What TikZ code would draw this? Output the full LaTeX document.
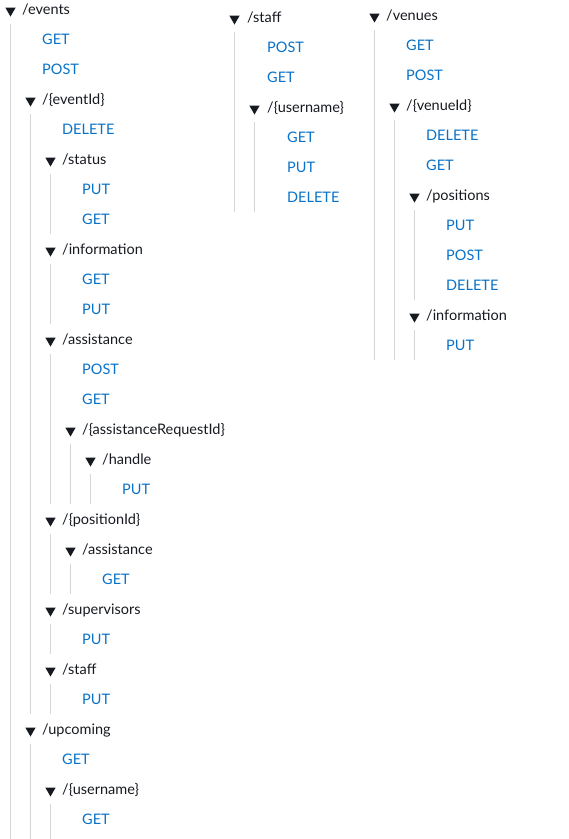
\documentclass[tikz,border=0pt]{standalone}
\usepackage{fontspec}
\setmainfont{Lato}
\usetikzlibrary{shapes.geometric}
\definecolor{ResText}{RGB}{22,25,31}
\definecolor{MethBlue}{RGB}{9,114,200}
\definecolor{GuideGray}{RGB}{212,214,216}
\tikzset{
  res/.style={anchor=west,text=ResText,font=\fontsize{14.5}{16}\selectfont,inner xsep=0pt,
    minimum height=30pt,text height=10pt,text depth=0pt},
  meth/.style={res,text=MethBlue},
  tri/.style={regular polygon,regular polygon sides=3,shape border rotate=180,fill=ResText,
    inner sep=0pt,minimum size=12pt},
  guide/.style={draw=GuideGray,line width=1pt},
}

\begin{document}
\begin{tikzpicture}[x=1pt,y=-1pt]
\useasboundingbox (0,0) rectangle (569,839);
\coordinate (bottom) at (0,839);
% /events
\node[tri] (ev-t) at (10.5,10.5) {};
\node[res] (ev) at (22,9) {/events};
\node[meth] (evget) at (42,39) {GET};
\node[meth] (evpost) at (42,69) {POST};
\node[tri] (evid-t) at (30.5,100.5) {};
\node[res] (evid) at (42,99) {/\{eventId\}};
\node[meth] (evdel) at (62,129) {DELETE};
\node[tri] (st-t) at (50.5,160.5) {};
\node[res] (st) at (62,159) {/status};
\node[meth] (stput) at (82,189) {PUT};
\node[meth] (stget) at (82,219) {GET};
\node[tri] (inf-t) at (50.5,250.5) {};
\node[res] (inf) at (62,249) {/information};
\node[meth] (infget) at (82,279) {GET};
\node[meth] (infput) at (82,309) {PUT};
\node[tri] (as-t) at (50.5,340.5) {};
\node[res] (as) at (62,339) {/assistance};
\node[meth] (aspost) at (82,369) {POST};
\node[meth] (asget) at (82,399) {GET};
\node[tri] (arid-t) at (70.5,430.5) {};
\node[res] (arid) at (82,429) {/\{assistanceRequestId\}};
\node[tri] (hd-t) at (90.5,460.5) {};
\node[res] (hd) at (102,459) {/handle};
\node[meth] (hdput) at (122,489) {PUT};
\node[tri] (pid-t) at (50.5,520.5) {};
\node[res] (pid) at (62,519) {/\{positionId\}};
\node[tri] (pas-t) at (70.5,550.5) {};
\node[res] (pas) at (82,549) {/assistance};
\node[meth] (pasget) at (102,579) {GET};
\node[tri] (sup-t) at (50.5,610.5) {};
\node[res] (sup) at (62,609) {/supervisors};
\node[meth] (supput) at (82,639) {PUT};
\node[tri] (stf-t) at (50.5,670.5) {};
\node[res] (stf) at (62,669) {/staff};
\node[meth] (stfput) at (82,699) {PUT};
\node[tri] (up-t) at (30.5,730.5) {};
\node[res] (up) at (42,729) {/upcoming};
\node[meth] (upget) at (62,759) {GET};
\node[tri] (un-t) at (50.5,790.5) {};
\node[res] (un) at (62,789) {/\{username\}};
\node[meth] (unget) at (82,819) {GET};
\draw[guide] (ev-t |- ev.south) -- (ev-t |- bottom);
\draw[guide] (evid-t |- evid.south) -- (evid-t |- stfput.south);
\draw[guide] (st-t |- st.south) -- (st-t |- stget.south);
\draw[guide] (inf-t |- inf.south) -- (inf-t |- infput.south);
\draw[guide] (as-t |- as.south) -- (as-t |- hdput.south);
\draw[guide] (arid-t |- arid.south) -- (arid-t |- hdput.south);
\draw[guide] (hd-t |- hd.south) -- (hd-t |- hdput.south);
\draw[guide] (pid-t |- pid.south) -- (pid-t |- pasget.south);
\draw[guide] (pas-t |- pas.south) -- (pas-t |- pasget.south);
\draw[guide] (sup-t |- sup.south) -- (sup-t |- supput.south);
\draw[guide] (stf-t |- stf.south) -- (stf-t |- stfput.south);
\draw[guide] (up-t |- up.south) -- (up-t |- bottom);
\draw[guide] (un-t |- un.south) -- (un-t |- bottom);
% /staff
\node[tri] (staff-t) at (234.5,18.5) {};
\node[res] (staff) at (247,17) {/staff};
\node[meth] (staffpost) at (267,47) {POST};
\node[meth] (staffget) at (267,77) {GET};
\node[tri] (sun-t) at (254.5,108.5) {};
\node[res] (sun) at (267,107) {/\{username\}};
\node[meth] (sunget) at (287,137) {GET};
\node[meth] (sunput) at (287,167) {PUT};
\node[meth] (sundel) at (287,197) {DELETE};
\draw[guide] (staff-t |- staff.south) -- (staff-t |- sundel.south);
\draw[guide] (sun-t |- sun.south) -- (sun-t |- sundel.south);
% /venues
\node[tri] (ven-t) at (374.5,16.5) {};
\node[res] (ven) at (386,15) {/venues};
\node[meth] (venget) at (406,45) {GET};
\node[meth] (venpost) at (406,75) {POST};
\node[tri] (vid-t) at (394.5,106.5) {};
\node[res] (vid) at (406,105) {/\{venueId\}};
\node[meth] (viddel) at (426,135) {DELETE};
\node[meth] (vidget) at (426,165) {GET};
\node[tri] (pos-t) at (414.5,196.5) {};
\node[res] (pos) at (426,195) {/positions};
\node[meth] (posput) at (446,225) {PUT};
\node[meth] (pospost) at (446,255) {POST};
\node[meth] (posdel) at (446,285) {DELETE};
\node[tri] (vinf-t) at (414.5,316.5) {};
\node[res] (vinf) at (426,315) {/information};
\node[meth] (vinfput) at (446,345) {PUT};
\draw[guide] (ven-t |- ven.south) -- (ven-t |- vinfput.south);
\draw[guide] (vid-t |- vid.south) -- (vid-t |- vinfput.south);
\draw[guide] (pos-t |- pos.south) -- (pos-t |- posdel.south);
\draw[guide] (vinf-t |- vinf.south) -- (vinf-t |- vinfput.south);
\end{tikzpicture}
\end{document}
